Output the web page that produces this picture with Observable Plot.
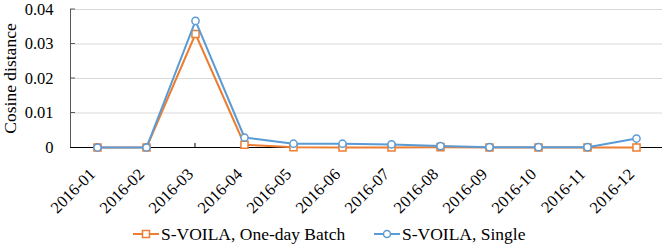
<!DOCTYPE html>
<html><head><meta charset="utf-8">
<script src="https://cdn.jsdelivr.net/npm/d3@7"></script>
<script src="https://cdn.jsdelivr.net/npm/@observablehq/plot@0.6"></script>
<style>
body{margin:0;background:#fff;font-family:"Liberation Serif","Times New Roman",Times,serif;}
#wrap{width:664px;height:246px;position:relative;overflow:hidden;}
#legend{position:absolute;left:0;top:224px;width:664px;height:22px;font-size:17.5px;line-height:20px;color:#000;}
.item{position:absolute;top:0;display:flex;align-items:flex-start;white-space:nowrap;}
.item svg{display:block;margin-right:2px;margin-top:4px;}
#chart svg text{font-family:"Liberation Serif","Times New Roman",Times,serif;}
</style>
</head><body><div id="wrap"><div id="chart"></div><div id="legend"></div></div>
<script>
const months = ["2016-01","2016-02","2016-03","2016-04","2016-05","2016-06","2016-07","2016-08","2016-09","2016-10","2016-11","2016-12"];
const batchValues = [0, 0, 0.0329, 0.0008, 0.0001, 0, 0, 0.0001, 0, 0, 0, 0];
const singleValues = [0, 0, 0.0367, 0.0029, 0.0011, 0.0011, 0.0009, 0.0004, 0.0001, 0.0001, 0.0001, 0.0026];
const yTicks = [0, 0.01, 0.02, 0.03, 0.04];
const yTickLabels = ["0", "0.01", "0.02", "0.03", "0.04"];
const seriesNames = ["S-VOILA, One-day Batch", "S-VOILA, Single"];
const seriesColors = ["#ED7D31", "#5B9BD5"];

const batch = months.map((m, i) => ({month: m, value: batchValues[i]}));
const single = months.map((m, i) => ({month: m, value: singleValues[i]}));

const plot = Plot.plot({
  width: 664,
  height: 222,
  marginLeft: 70,
  marginRight: 2,
  marginTop: 9,
  marginBottom: 75,
  style: {background: "#fff", color: "#000", fontSize: "17px"},
  x: {type: "point", domain: months, padding: 0.5},
  y: {domain: [0, 0.04]},
  marks: [
    Plot.gridY(yTicks.slice(1), {stroke: "#d9d9d9", strokeOpacity: 1, strokeWidth: 1}),
    Plot.axisY(yTicks, {tickSize: 0, tickPadding: 17, fontSize: 16.5, label: null,
      tickFormat: d => yTickLabels[yTicks.indexOf(d)]}),
    Plot.axisY({label: "Cosine distance", labelAnchor: "center", labelArrow: "none", labelOffset: 67,
      tickSize: 0, tickFormat: () => "", fontSize: 17.5, ticks: []}),
    Plot.axisX(months, {tickSize: 0, tickRotate: -45, tickPadding: 24, dx: -5, fontSize: 16.5, label: null}),
    Plot.ruleY([0], {stroke: "#000", strokeWidth: 1}),
    Plot.line(batch, {x: "month", y: "value", stroke: seriesColors[0], strokeWidth: 2}),
    Plot.dot(batch, {x: "month", y: "value", symbol: "square", r: 4, stroke: seriesColors[0], fill: "#fff", strokeWidth: 1.5}),
    Plot.line(single, {x: "month", y: "value", stroke: seriesColors[1], strokeWidth: 2}),
    Plot.dot(single, {x: "month", y: "value", symbol: "circle", r: 3.6, stroke: seriesColors[1], fill: "#fff", strokeWidth: 1.5})
  ]
});
document.getElementById("chart").appendChild(plot);

// axis decorations using the plot's own scales
const xs = plot.scale("x"), ys = plot.scale("y");
const svg = d3.select(plot);
const left = 70, y0 = ys.apply(0), yTop = ys.apply(0.04);
const g = svg.append("g").attr("stroke", "#595959").attr("stroke-width", 1);
g.append("line").attr("x1", left + 0.5).attr("x2", left + 0.5).attr("y1", yTop).attr("y2", y0);
yTicks.slice(1).forEach(t => {
  g.append("line").attr("x1", left).attr("x2", left + 5).attr("y1", ys.apply(t)).attr("y2", ys.apply(t));
});
const gx = svg.append("g").attr("stroke", "#000").attr("stroke-width", 1);
months.forEach(m => {
  const x = xs.apply(m);
  gx.append("line").attr("x1", x).attr("x2", x).attr("y1", y0).attr("y2", y0 - 4);
});
svg.selectAll("g[aria-label='line'], g[aria-label='dot']").raise();

// legend
const legend = document.getElementById("legend");
const positions = [133, 374];
seriesNames.forEach((name, i) => {
  const item = document.createElement("div");
  item.className = "item";
  item.style.left = positions[i] + "px";
  const sw = d3.create("svg").attr("width", 26).attr("height", 12);
  sw.append("line").attr("x1", 0).attr("x2", 26).attr("y1", 6).attr("y2", 6).attr("stroke", seriesColors[i]).attr("stroke-width", 2);
  if (i === 0) sw.append("rect").attr("x", 9.5).attr("y", 2.5).attr("width", 7).attr("height", 7).attr("fill", "#fff").attr("stroke", seriesColors[i]).attr("stroke-width", 1.5);
  else sw.append("circle").attr("cx", 13).attr("cy", 6).attr("r", 3.5).attr("fill", "#fff").attr("stroke", seriesColors[i]).attr("stroke-width", 1.5);
  item.appendChild(sw.node());
  const t = document.createElement("span");
  t.textContent = name;
  item.appendChild(t);
  legend.appendChild(item);
});
</script></body></html>
